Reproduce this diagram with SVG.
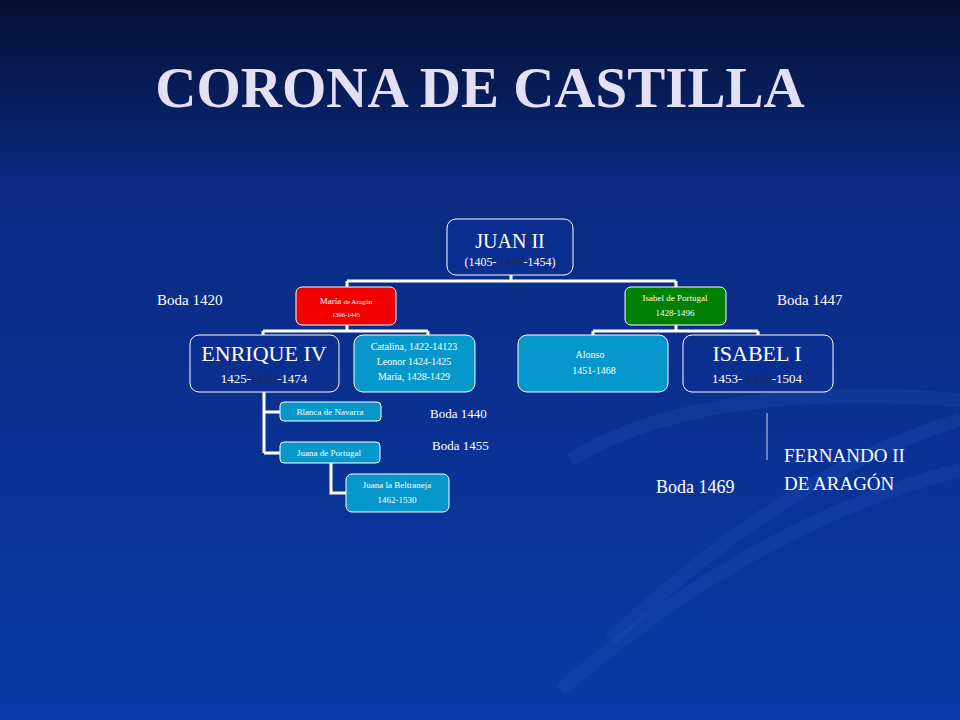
<svg xmlns="http://www.w3.org/2000/svg" width="960" height="720" viewBox="0 0 960 720">
<defs>
<linearGradient id="bg" x1="0" y1="0" x2="0" y2="1">
<stop offset="0" stop-color="#050f30"/><stop offset="0.25" stop-color="#0a2a80"/><stop offset="1" stop-color="#0a3aa8"/>
</linearGradient>
</defs>
<style>
text{font-family:"Liberation Serif",serif;fill:#fff;text-anchor:middle}
.ln{stroke:#fff;stroke-width:3;fill:none}
.ol{fill:#0a2f90;stroke:#fff;stroke-width:1}
.lb{fill:#0798cb;stroke:#fff;stroke-width:1}
.lab{text-anchor:start}
.dk{fill:#1a2a60}
</style>
<rect width="960" height="720" fill="url(#bg)"/>
<g fill="none" stroke="#2a5ac0" stroke-opacity="0.2" stroke-width="14">
<path d="M560 690 Q760 520 960 470"/>
<path d="M610 640 Q790 470 960 420"/>
<path d="M570 460 Q700 380 960 400"/>
</g>
<text x="480" y="107" font-size="57" font-weight="bold" style="fill:#e4e0f4">CORONA DE CASTILLA</text>
<g id="connectors">
<path class="ln" d="M511 275V281M347 281H676M347 281V288M676 281V288"/>
<path class="ln" d="M347 325V331M263 331H428M263 331V335M428 331V335"/>
<path class="ln" d="M676 325V331M593 331H758M593 331V335M758 331V335"/>
<path class="ln" d="M264 392V453M264 412H280M264 453H280"/>
<path class="ln" d="M331 463V493H346"/>
<path d="M767 413V460" stroke="#c8d0f0" stroke-width="1"/>
</g>
<g id="juan"><rect class="ol" x="447" y="219" width="126" height="56" rx="9"/>
<text x="510" y="248" font-size="20">JUAN II</text>
<text x="510" y="266" font-size="12">(1405- <tspan class="dk">1406</tspan>-1454)</text></g>
<g id="maria"><rect x="296" y="287" width="100" height="38" rx="6" fill="#f20000" stroke="#fff"/>
<text x="346" y="304" font-size="9">María <tspan font-size="7">de Aragón</tspan></text>
<text x="346" y="317" font-size="6.5">1396-1445</text></g>
<g id="isabelp"><rect x="625" y="287" width="101" height="38" rx="6" fill="#008000" stroke="#fff"/>
<text x="675" y="301" font-size="9">Isabel de Portugal</text>
<text x="675" y="316" font-size="9">1428-1496</text></g>
<g id="enrique"><rect class="ol" x="190" y="335" width="149" height="57" rx="9"/>
<text x="264" y="361" font-size="22">ENRIQUE IV</text>
<text x="264" y="383" font-size="13">1425-<tspan class="dk">1454</tspan>-1474</text></g>
<g id="catalina"><rect class="lb" x="354" y="335" width="121" height="57" rx="9"/>
<text x="414" y="350" font-size="10">Catalina, 1422-14123</text>
<text x="414" y="365" font-size="10">Leonor 1424-1425</text>
<text x="414" y="380" font-size="10">María, 1428-1429</text></g>
<g id="alonso"><rect class="lb" x="518" y="335" width="150" height="57" rx="9"/>
<text x="590" y="358" font-size="10">Alonso</text>
<text x="594" y="374" font-size="10">1451-1468</text></g>
<g id="isabel1"><rect class="ol" x="683" y="335" width="150" height="57" rx="9"/>
<text x="757" y="361" font-size="22">ISABEL I</text>
<text x="757" y="383" font-size="13">1453- <tspan class="dk">1479</tspan>-1504</text></g>
<g id="blanca"><rect class="lb" x="280" y="402" width="101" height="19" rx="4"/>
<text x="330" y="415" font-size="9">Blanca de Navarra</text></g>
<g id="juanap"><rect class="lb" x="280" y="442" width="100" height="21" rx="4"/>
<text x="329" y="456" font-size="9">Juana de Portugal</text></g>
<g id="beltraneja"><rect class="lb" x="346" y="474" width="103" height="38" rx="6"/>
<text x="397" y="488" font-size="9">Juana la Beltraneja</text>
<text x="397" y="503" font-size="9">1462-1530</text></g>
<g id="labels">
<text class="lab" x="157" y="305" font-size="15">Boda 1420</text>
<text class="lab" x="777" y="305" font-size="15">Boda 1447</text>
<text class="lab" x="430" y="418" font-size="13">Boda 1440</text>
<text class="lab" x="432" y="450" font-size="13">Boda 1455</text>
<text class="lab" x="656" y="493" font-size="18">Boda 1469</text>
<text class="lab" x="784" y="462" font-size="19">FERNANDO II</text>
<text class="lab" x="784" y="490" font-size="19">DE ARAGÓN</text>
</g>
</svg>
